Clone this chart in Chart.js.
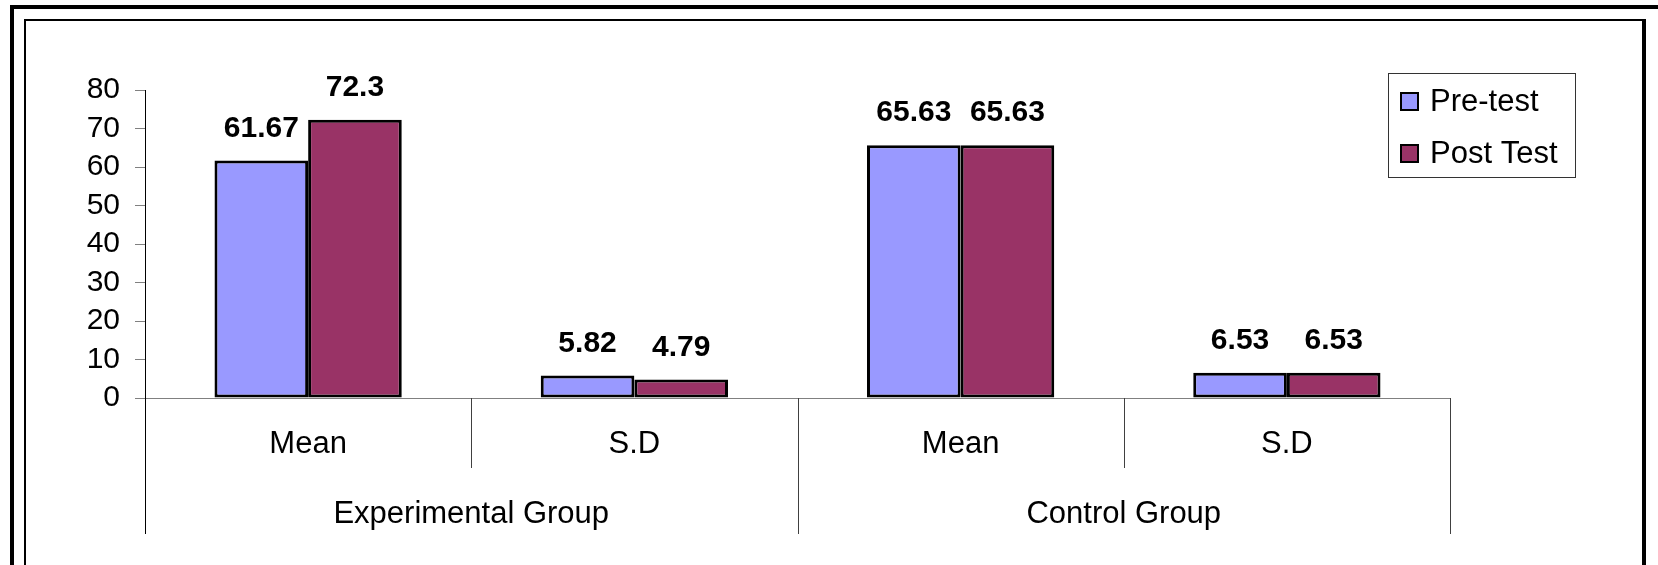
<!DOCTYPE html>
<html>
<head>
<meta charset="utf-8">
<script src="https://cdn.jsdelivr.net/npm/chart.js@4/dist/chart.umd.min.js"></script>
<style>
  html, body { margin: 0; padding: 0; background: #fff; }
  canvas { display: block; }
</style>
</head>
<body>
<canvas id="chart" width="1658" height="565"></canvas>
<script>
// Category labels (inner level) and their groups (outer level)
const categories = ['Mean', 'S.D', 'Mean', 'S.D'];
const groups = ['Experimental Group', 'Control Group'];
const categoriesPerGroup = 2;

// Series
const seriesNames = ['Pre-test', 'Post Test'];
const preTest = [61.67, 5.82, 65.63, 6.53];
const postTest = [72.3, 4.79, 65.63, 6.53];

// Value axis
const yMin = 0;
const yMax = 80;
const yStep = 10;

const FONT = '"Liberation Sans", Arial, Helvetica, sans-serif';
const colors = ['#9999FF', '#993366'];

// Page frame, extended axis separators, group labels, value labels and legend
const decorations = {
  id: 'decorations',
  beforeDraw(chart) {
    const ctx = chart.ctx;
    ctx.save();
    ctx.fillStyle = '#fff';
    ctx.fillRect(0, 0, chart.width, chart.height);
    ctx.fillStyle = '#000';
    // outer heavy frame (top and left)
    ctx.fillRect(10, 5, chart.width - 10, 4);
    ctx.fillRect(10, 5, 4, chart.height - 5);
    // inner frame
    ctx.fillRect(24, 19, 1620, 2);
    ctx.fillRect(24, 19, 2, chart.height - 19);
    ctx.fillRect(1642, 19, 4, chart.height - 19);
    ctx.restore();
  },
  afterDatasetsDraw(chart) {
    const ctx = chart.ctx;
    const x = chart.scales.x;
    const area = chart.chartArea;
    const n = categories.length;
    const step = (area.right - area.left) / n;
    ctx.save();

    // separators below the category axis
    for (let i = 0; i <= n; i++) {
      const px = Math.round(area.left + i * step) + 0.5;
      const isGroupEdge = i % categoriesPerGroup === 0;
      ctx.strokeStyle = i === 0 ? '#000' : '#404040';
      ctx.lineWidth = 1;
      ctx.beginPath();
      ctx.moveTo(px, area.bottom);
      ctx.lineTo(px, area.bottom + (isGroupEdge ? 136 : 70));
      ctx.stroke();
    }

    // outer-level group labels
    ctx.fillStyle = '#000';
    ctx.font = '31px ' + FONT;
    ctx.textAlign = 'center';
    ctx.textBaseline = 'middle';
    groups.forEach((g, gi) => {
      const first = x.getPixelForValue(gi * categoriesPerGroup);
      const last = x.getPixelForValue(gi * categoriesPerGroup + categoriesPerGroup - 1);
      ctx.fillText(g, (first + last) / 2, area.bottom + 116);
    });

    // value labels above bars
    ctx.font = 'bold 30px ' + FONT;
    ctx.textBaseline = 'alphabetic';
    chart.data.datasets.forEach((ds, di) => {
      const meta = chart.getDatasetMeta(di);
      meta.data.forEach((bar, i) => {
        ctx.fillText(String(ds.data[i]), bar.x, bar.y - 24);
      });
    });

    // legend
    const lx = 1388, ly = 73, lw = 187, lh = 104;
    ctx.fillStyle = '#fff';
    ctx.fillRect(lx, ly, lw, lh);
    ctx.strokeStyle = '#333';
    ctx.lineWidth = 1;
    ctx.strokeRect(lx + 0.5, ly + 0.5, lw, lh);
    ctx.font = '31px ' + FONT;
    ctx.textAlign = 'left';
    ctx.textBaseline = 'middle';
    chart.data.datasets.forEach((ds, di) => {
      const sy = 92 + di * 52;
      ctx.fillStyle = ds.backgroundColor;
      ctx.fillRect(1400, sy, 19, 19);
      ctx.strokeStyle = '#000';
      ctx.lineWidth = 2;
      ctx.strokeRect(1401, sy + 1, 17, 17);
      ctx.fillStyle = '#000';
      ctx.fillText(ds.label, 1430, sy + 10);
    });

    ctx.restore();
  }
};

new Chart(document.getElementById('chart'), {
  type: 'bar',
  data: {
    labels: categories,
    datasets: [
      { label: seriesNames[0], data: preTest, backgroundColor: colors[0] },
      { label: seriesNames[1], data: postTest, backgroundColor: colors[1] }
    ]
  },
  options: {
    responsive: false,
    animation: false,
    devicePixelRatio: 1,
    layout: { padding: { top: 90, right: 208, left: 0, bottom: 0 } },
    datasets: {
      bar: {
        borderColor: '#000',
        borderWidth: 3,
        borderSkipped: false,
        categoryPercentage: 0.574,
        barPercentage: 1
      }
    },
    plugins: {
      legend: { display: false },
      tooltip: { enabled: false }
    },
    scales: {
      x: {
        offset: true,
        grid: { display: false, drawTicks: false },
        border: { display: true, color: '#808080', width: 1 },
        ticks: {
          color: '#000',
          font: { family: FONT, size: 31 },
          padding: 28,
          maxRotation: 0,
          autoSkip: false
        },
        afterFit(scale) { scale.height = 167; }
      },
      y: {
        min: yMin,
        max: yMax,
        grid: {
          drawOnChartArea: false,
          drawTicks: true,
          tickLength: 10,
          color: '#808080'
        },
        border: { display: true, color: '#000', width: 1 },
        ticks: {
          stepSize: yStep,
          autoSkip: false,
          color: '#000',
          font: { family: FONT, size: 30 },
          padding: 15
        },
        afterFit(scale) { scale.width = 145; }
      }
    }
  },
  plugins: [decorations]
});
</script>
</body>
</html>
